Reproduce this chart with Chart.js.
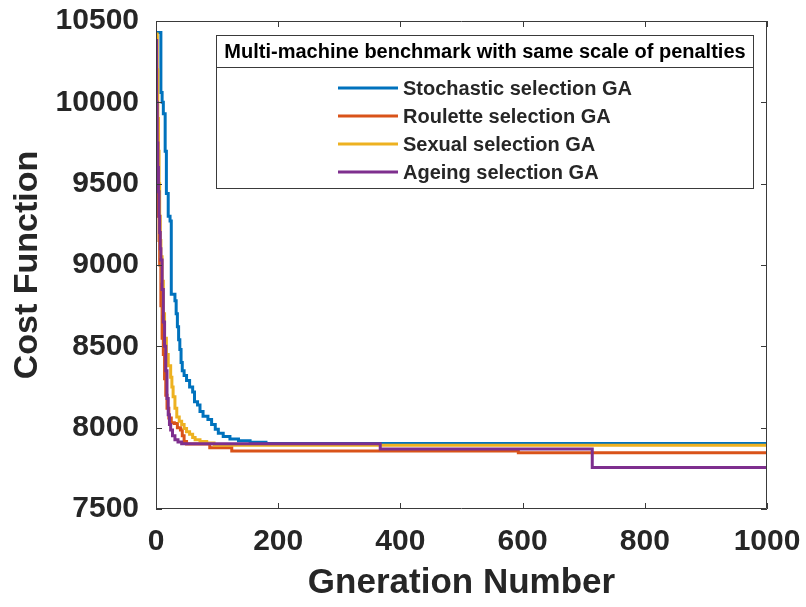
<!DOCTYPE html>
<html>
<head>
<meta charset="utf-8">
<script src="https://cdn.jsdelivr.net/npm/chart.js@4.4.1/dist/chart.umd.min.js"></script>
<style>
  html, body { margin: 0; padding: 0; background: #ffffff; }
  #costChart { display: block; }
</style>
</head>
<body>
<canvas id="costChart" width="806" height="607"></canvas>
<script>
// series labels + colours (MATLAB default order)
const seriesLabels = ["Stochastic selection GA", "Roulette selection GA", "Sexual selection GA", "Ageing selection GA"];
const seriesColors = ["#0072BD", "#D95319", "#EDB120", "#7E2F8E"];
const legendTitle = "Multi-machine benchmark with same scale of penalties";

// axis ticks
const xTicks = [0, 200, 400, 600, 800, 1000];
const yTicks = [7500, 8000, 8500, 9000, 9500, 10000, 10500];

// best cost per generation: [generation, cost]
const stochastic = [
  [0, 10430], [8, 10060], [10, 10000], [12, 9930], [15, 9700], [17, 9440], [20, 9300],
  [23, 9270], [25, 8820], [31, 8780], [33, 8700], [35, 8620], [37, 8540], [39, 8480],
  [41, 8400], [43, 8350], [46, 8320], [50, 8290], [55, 8250], [60, 8220], [63, 8160],
  [68, 8140], [72, 8100], [77, 8070], [85, 8050], [91, 8020], [97, 7990], [102, 7965],
  [110, 7945], [121, 7930], [135, 7920], [154, 7910], [180, 7903], [1000, 7903]
];
const roulette = [
  [0, 10400], [1, 10100], [2, 9800], [3, 9500], [4, 9300], [5, 9150], [6, 9000],
  [8, 8750], [10, 8550], [12, 8450], [14, 8300], [16, 8200], [18, 8120], [21, 8060],
  [25, 8030], [30, 8025], [35, 8000], [40, 7985], [43, 7950], [46, 7915], [50, 7900],
  [88, 7876], [124, 7857], [593, 7846], [1000, 7846]
];
const sexual = [
  [0, 10420], [2, 10200], [3, 9900], [4, 9700], [5, 9500], [6, 9300], [7, 9150],
  [8, 9050], [10, 8900], [12, 8700], [14, 8550], [17, 8450], [20, 8380], [24, 8310],
  [26, 8250], [28, 8190], [31, 8120], [34, 8066], [38, 8040], [42, 8020], [46, 7995],
  [50, 7975], [55, 7960], [60, 7940], [64, 7925], [72, 7915], [83, 7905], [95, 7892],
  [1000, 7892]
];
const ageing = [
  [0, 10380], [1, 10000], [2, 9750], [3, 9600], [4, 9450], [5, 9300], [6, 9200],
  [7, 9100], [8, 9030], [10, 8850], [12, 8650], [14, 8500], [16, 8350], [18, 8180],
  [20, 8080], [22, 8020], [24, 7985], [27, 7950], [31, 7925], [36, 7912], [42, 7901],
  [367, 7869], [714, 7755], [1000, 7755]
];
const seriesData = [stochastic, roulette, sexual, ageing];

const FONT = "'Liberation Sans', Arial, Helvetica, sans-serif";
const TEXT = "#262626";

// box round the axes with short inward ticks on all four sides
const axesBox = {
  id: "axesBox",
  afterDatasetsDraw(chart) {
    const { ctx, chartArea: a, scales } = chart;
    const tl = 6;
    ctx.save();
    ctx.strokeStyle = "#3a3a3a";
    ctx.lineWidth = 1;
    ctx.beginPath();
    ctx.rect(a.left + 0.5, a.top + 0.5, a.right - a.left - 1, a.bottom - a.top - 1);
    scales.x.ticks.forEach((t) => {
      const px = Math.round(scales.x.getPixelForValue(t.value)) + 0.5;
      ctx.moveTo(px, a.bottom); ctx.lineTo(px, a.bottom - tl);
      ctx.moveTo(px, a.top); ctx.lineTo(px, a.top + tl);
    });
    scales.y.ticks.forEach((t) => {
      const py = Math.round(scales.y.getPixelForValue(t.value)) + 0.5;
      ctx.moveTo(a.left, py); ctx.lineTo(a.left + tl, py);
      ctx.moveTo(a.right, py); ctx.lineTo(a.right - tl, py);
    });
    ctx.stroke();
    ctx.restore();
  }
};

// MATLAB style legend with a title row
const titledLegend = {
  id: "titledLegend",
  afterDraw(chart) {
    const ctx = chart.ctx;
    const box = { left: 216.5, top: 35.5, right: 753.5, bottom: 188.5, split: 67.5 };
    ctx.save();
    ctx.fillStyle = "#ffffff";
    ctx.fillRect(box.left, box.top, box.right - box.left, box.bottom - box.top);
    ctx.strokeStyle = "#3a3a3a";
    ctx.lineWidth = 1;
    ctx.strokeRect(box.left, box.top, box.right - box.left, box.bottom - box.top);
    ctx.beginPath();
    ctx.moveTo(box.left, box.split); ctx.lineTo(box.right, box.split);
    ctx.stroke();

    // title, squeezed to the box width like the original
    ctx.fillStyle = "#000000";
    ctx.font = "bold 20px " + FONT;
    const w = ctx.measureText(legendTitle).width;
    const fs = Math.min(20, 20 * 523 / w);
    ctx.font = "bold " + fs.toFixed(2) + "px " + FONT;
    ctx.textAlign = "center";
    ctx.textBaseline = "middle";
    ctx.fillText(legendTitle, (box.left + box.right) / 2, 52);

    ctx.font = "bold 20px " + FONT;
    ctx.textAlign = "left";
    chart.data.datasets.forEach((ds, i) => {
      const y = 88 + i * 28;
      ctx.strokeStyle = ds.borderColor;
      ctx.lineWidth = 3;
      ctx.beginPath();
      ctx.moveTo(338, y); ctx.lineTo(398, y);
      ctx.stroke();
      ctx.fillStyle = TEXT;
      ctx.fillText(ds.label, 403, y + 1);
    });
    ctx.restore();
  }
};

const ctx = document.getElementById("costChart").getContext("2d");
new Chart(ctx, {
  type: "line",
  data: {
    datasets: seriesLabels.map((label, i) => ({
      label,
      data: seriesData[i].map(([x, y]) => ({ x, y })),
      borderColor: seriesColors[i],
      backgroundColor: seriesColors[i],
      borderWidth: 3,
      stepped: true,
      pointRadius: 0,
      fill: false,
      order: 3 - i, // later series drawn on top, as in MATLAB
    })),
  },
  options: {
    responsive: false,
    animation: false,
    devicePixelRatio: 1,
    layout: { padding: { left: 0, top: 21, right: 39, bottom: 0 } },
    plugins: {
      legend: { display: false },
      tooltip: { enabled: false },
    },
    scales: {
      x: {
        type: "linear",
        min: 0,
        max: 1000,
        afterBuildTicks: (scale) => { scale.ticks = xTicks.map((v) => ({ value: v })); },
        afterFit: (scale) => {
          scale.height = 98;
          // labels may hang past the plot edges, the layout padding covers it
          scale.paddingLeft = 0;
          scale.paddingRight = 0;
        },
        grid: { display: false, drawTicks: false },
        border: { display: false },
        ticks: {
          color: TEXT, padding: 15, maxRotation: 0,
          callback: (v) => String(v),
          font: { family: FONT, size: 30, weight: "bold" },
        },
        title: {
          display: true,
          text: "Gneration Number",
          color: TEXT,
          padding: { top: 0, bottom: 3 },
          font: { family: FONT, size: 35, weight: "bold" },
        },
      },
      y: {
        type: "linear",
        min: 7500,
        max: 10500,
        afterBuildTicks: (scale) => { scale.ticks = yTicks.map((v) => ({ value: v })); },
        afterFit: (scale) => {
          scale.width = 156;
          scale.paddingTop = 0;
          scale.paddingBottom = 0;
        },
        grid: { display: false, drawTicks: false },
        border: { display: false },
        ticks: {
          color: TEXT, padding: 17,
          callback: (v) => String(v),
          font: { family: FONT, size: 30, weight: "bold" },
        },
        title: {
          display: true,
          text: "Cost Function",
          color: TEXT,
          padding: { top: 7, bottom: 0 },
          font: { family: FONT, size: 34, weight: "bold" },
        },
      },
    },
  },
  plugins: [axesBox, titledLegend],
});
</script>
</body>
</html>
